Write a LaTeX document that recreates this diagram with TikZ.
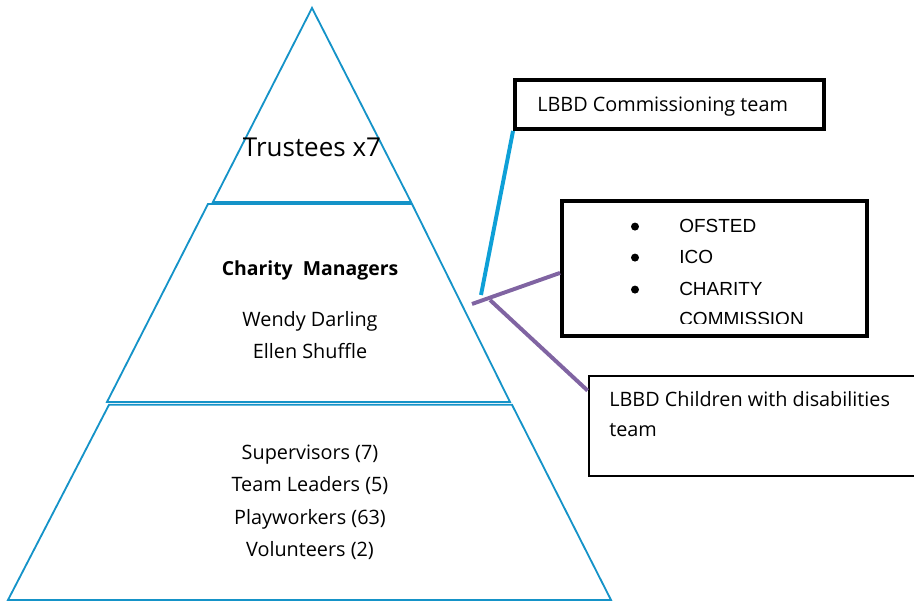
\documentclass[tikz,border=0pt]{standalone}
\usepackage{fontspec}
\setmainfont{Open Sans}
\newfontfamily\listfont{Liberation Sans}
\usetikzlibrary{calc}

\definecolor{pyrblue}{RGB}{21,147,200}
\definecolor{linkblue}{RGB}{14,160,215}
\definecolor{linkpurple}{RGB}{128,100,162}

\tikzset{
	tier/.style={draw=pyrblue, line width=1.3pt, line join=miter},
	tiertext/.style={anchor=base, inner sep=0pt, font=\fontsize{14.1}{16}\selectfont},
	orgbox/.style={draw=black, fill=white, line width=2.8pt},
	boxtext/.style={anchor=base west, inner sep=0pt, font=\fontsize{14.1}{16}\selectfont},
	listtext/.style={anchor=base west, inner sep=0pt, font=\listfont\fontsize{13.5}{16}\selectfont},
	listdot/.style={circle, fill=black, inner sep=0pt, minimum size=0.2cm},
	link/.style={line width=2.8pt}
}

\begin{document}
\begin{tikzpicture}
			%%%%% START %%%%%
			\useasboundingbox (0, 0) rectangle (22.85, 15.05);
			
			% pyramid
			\draw[tier] (7.8, 14.85) -- (10.275, 10.0) -- (5.325, 10.0) -- cycle;
			\draw[tier] (5.2, 9.95) -- (10.3, 9.95) -- (12.75, 5.0) -- (2.675, 5.0) -- cycle;
			\draw[tier] (2.725, 4.93) -- (12.8, 4.93) -- (15.275, 0.05) -- (0.2, 0.05) -- cycle;
			
			\node[tiertext, font=\fontsize{18.5}{22}\selectfont] (trustees) at (7.8, 11.125) {Trustees x7};
			
			\node[tiertext, font=\bfseries\fontsize{13.8}{16}\selectfont] (managers) at (7.75, 8.15) {Charity\ \ Managers};
			\node[tiertext] (wendy) at (7.75, 6.875) {Wendy Darling};
			\node[tiertext] (ellen) at (7.75, 6.075) {Ellen Shuffle};
			
			\foreach \staff [count=\i] in {Supervisors (7), Team Leaders (5), Playworkers (63), Volunteers (2)}
				\node[tiertext] (staff\i) at (7.75, {3.56 - 0.81*(\i-1)}) {\staff};
			
			% links
			\coordinate (hub) at (12.025, 7.675);
			\coordinate (fork) at (11.8, 7.45);
			\coordinate (split) at (12.25, 7.55);
			
			\node[orgbox, minimum width=7.725cm, minimum height=1.225cm] (commission) at (16.7375, 12.4375) {};
			\node[orgbox, minimum width=7.625cm, minimum height=3.375cm] (ofsted) at (17.8625, 8.3375) {};
			\node[orgbox, line width=2pt, minimum width=8.4cm, minimum height=2.5cm] (children) at (18.925, 4.4) {};
			
			\draw[link, linkblue] (commission.south west) -- (hub);
			\draw[link, linkpurple] (fork) -- ([yshift=-0.11cm]ofsted.west);
			\draw[link, linkpurple] (split) -- ([yshift=-0.4cm]children.north west);
			
			% box texts
			\node[boxtext] (commissiontext) at (13.425, 12.25) {LBBD Commissioning team};
			
			\begin{scope}
				\clip (ofsted.north west) rectangle (22.85, 6.95);
				\foreach \entry/\y [count=\i] in {OFSTED/9.225, ICO/8.45, CHARITY/7.65}{
					\node[listdot] (bullet\i) at (15.875, \y + 0.16) {};
					\node[listtext] (entry\i) at (16.975, \y) {\entry};
				}
				\node[listtext] (entry4) at (16.975, 6.9) {COMMISSION};
			\end{scope}
			
			\node[boxtext] (childrenone) at (15.225, 4.875) {LBBD Children with disabilities};
			\node[boxtext] (childrentwo) at (15.225, 4.125) {team};
			%%%%% END %%%%%
\end{tikzpicture}
\end{document}
